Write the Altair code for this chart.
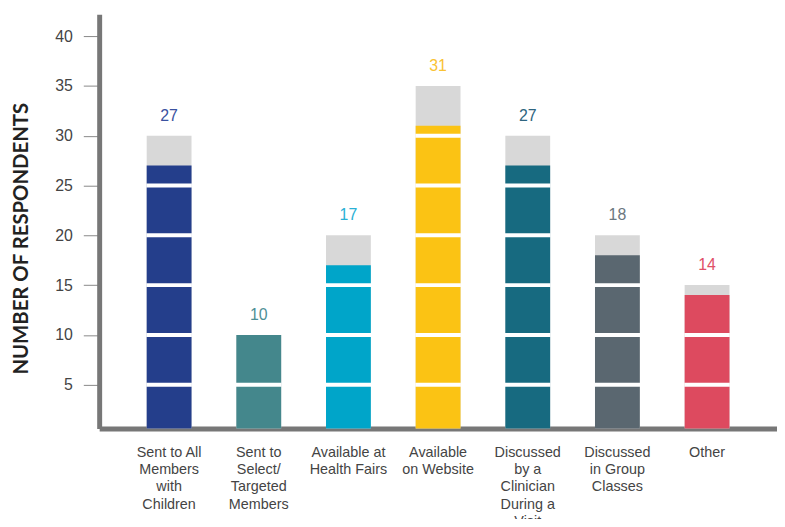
import altair as alt
import pandas as pd

categories = [
    "Sent to All|Members|with|Children",
    "Sent to|Select/|Targeted|Members",
    "Available at|Health Fairs",
    "Available|on Website",
    "Discussed|by a|Clinician|During a|Visit",
    "Discussed|in Group|Classes",
    "Other",
]
values = [27, 10, 17, 31, 27, 18, 14]
caps = [30, 10, 20, 35, 30, 20, 15]
bar_colors = ["#243e8b", "#44878c", "#00a5c9", "#fbc314", "#176a80", "#5a6770", "#dd4a5f"]
label_colors = ["#3a52a0", "#4e8f95", "#2ab0d5", "#f9c233", "#2f6580", "#6b7780", "#e05068"]
y_ticks = [5, 10, 15, 20, 25, 30, 35, 40]

df = pd.DataFrame({
    "cat": categories,
    "value": values,
    "cap": caps,
    "color": bar_colors,
    "lcolor": label_colors,
})

sep_rows = []
for c, v in zip(categories, values):
    for t in y_ticks:
        if t < v:
            sep_rows.append({"cat": c, "y": t})
sep = pd.DataFrame(sep_rows)

xscale = alt.Scale(domain=categories, paddingInner=0.5, paddingOuter=0.53)
yscale = alt.Scale(domain=[0.6, 42.2], nice=False, zero=False)

x_enc = alt.X(
    "cat:N",
    scale=xscale,
    sort=categories,
    title=None,
    axis=alt.Axis(
        labelExpr="split(datum.label, '|')",
        labelAngle=0,
        labelFont="Liberation Sans",
        labelFontSize=14.5,
        labelColor="#444444",
        labelLineHeight=17.5,
        labelPadding=17,
        labelBaseline="top",
        ticks=False,
        domainColor="#777777",
        domainWidth=5,
        labelLimit=200,
    ),
)

base = alt.Chart(df)

gray = base.mark_bar(color="#d8d8d8", clip=True).encode(
    x=x_enc,
    y=alt.Y(
        "cap:Q",
        scale=yscale,
        title="NUMBER OF RESPONDENTS",
        axis=alt.Axis(
            values=y_ticks,
            grid=False,
            labelFont="Liberation Sans",
            labelFontSize=16,
            labelColor="#444444",
            labelPadding=11,
            tickSize=16,
            tickColor="#888888",
            tickWidth=1,
            domainColor="#777777",
            domainWidth=5,
            titleFont="Lato",
            titleFontWeight="bold",
            titleFontSize=20.5,
            titleColor="#222222",
            titleAngle=270,
            titleX=-78,
            titleY=226,
            titleAlign="center",
            titleBaseline="middle",
        ),
    ),
)

bars = base.mark_bar(clip=True).encode(
    x=alt.X("cat:N", scale=xscale, sort=categories),
    y=alt.Y("value:Q", scale=yscale),
    color=alt.Color("color:N", scale=None),
)

seps = alt.Chart(sep).mark_tick(color="white", thickness=4, size=46, opacity=1).encode(
    x=alt.X("cat:N", scale=xscale, sort=categories),
    y=alt.Y("y:Q", scale=yscale),
)

labels = base.mark_text(
    font="Liberation Sans", fontSize=16, dy=-20, baseline="middle"
).encode(
    x=alt.X("cat:N", scale=xscale, sort=categories),
    y=alt.Y("cap:Q", scale=yscale),
    text=alt.Text("value:Q"),
    color=alt.Color("lcolor:N", scale=None),
)

chart = (
    alt.layer(gray, bars, seps, labels)
    .properties(
        width=684,
        height=418,
        autosize=alt.AutoSizeParams(type="none"),
        padding={"left": 92, "top": 4, "right": 0, "bottom": 89},
        background="white",
    )
    .configure_view(stroke=None)
)

chart.save("out.html", embed_options={"renderer": "svg", "actions": False})
